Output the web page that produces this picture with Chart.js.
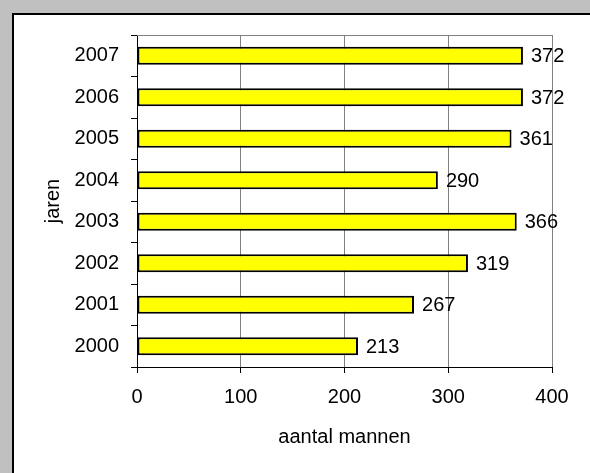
<!DOCTYPE html>
<html>
<head>
<meta charset="utf-8">
<script src="https://cdn.jsdelivr.net/npm/chart.js@4/dist/chart.umd.min.js"></script>
<style>
  html, body { margin: 0; padding: 0; background: #c0c0c0; overflow: hidden; }
  #frame { position: absolute; left: 12px; top: 13px; width: 700px; height: 600px; background: #fff; border-left: 2px solid #000; border-top: 2px solid #000; }
  #chart { position: absolute; left: 0; top: 0; }
</style>
</head>
<body>
<div id="frame"></div>
<canvas id="chart" width="590" height="473"></canvas>
<script>
// jaren, van boven naar beneden zoals in de grafiek
const jaren = ['2007', '2006', '2005', '2004', '2003', '2002', '2001', '2000'];
const mannen = [372, 372, 361, 290, 366, 319, 267, 213];
const xTicks = [0, 100, 200, 300, 400];

const FONT = { family: '"Liberation Sans", Arial, sans-serif', size: 20 };

// grijze bovenrand van het plotgebied
const plotBorder = {
  id: 'plotBorder',
  beforeDatasetsDraw(chart) {
    const { ctx, chartArea: a } = chart;
    ctx.save();
    ctx.strokeStyle = '#808080';
    ctx.lineWidth = 1;
    ctx.beginPath();
    ctx.moveTo(a.left, a.top + 0.5);
    ctx.lineTo(a.right, a.top + 0.5);
    ctx.stroke();
    ctx.restore();
  }
};

// waarden naast de balken
const valueLabels = {
  id: 'valueLabels',
  afterDatasetsDraw(chart) {
    const { ctx } = chart;
    const meta = chart.getDatasetMeta(0);
    ctx.save();
    ctx.font = `${FONT.size}px ${FONT.family}`;
    ctx.fillStyle = '#000';
    ctx.textAlign = 'left';
    ctx.textBaseline = 'middle';
    meta.data.forEach((bar, i) => {
      ctx.fillText(String(mannen[i]), bar.x + 8, bar.y + 1);
    });
    ctx.restore();
  }
};

new Chart(document.getElementById('chart'), {
  type: 'bar',
  data: {
    labels: jaren,
    datasets: [{
      data: mannen,
      backgroundColor: '#ffff00',
      borderColor: '#000',
      borderWidth: 2,
      borderSkipped: false,
      barPercentage: 0.43,
      categoryPercentage: 1
    }]
  },
  options: {
    indexAxis: 'y',
    responsive: false,
    animation: false,
    layout: { padding: { top: 35, right: 38, left: 0, bottom: 0 } },
    plugins: { legend: { display: false }, tooltip: { enabled: false } },
    scales: {
      x: {
        min: 0,
        max: 400,
        afterFit(scale) { scale.height = 106; },
        afterBuildTicks(scale) { scale.ticks = xTicks.map(v => ({ value: v })); },
        grid: { color: '#808080', tickColor: '#000', tickLength: 6, lineWidth: 1 },
        border: { color: '#000', width: 1 },
        ticks: { color: '#000', font: FONT, padding: 12 },
        title: { display: true, text: 'aantal mannen', color: '#000', font: FONT, padding: { top: 0, bottom: 24 } }
      },
      y: {
        afterFit(scale) { scale.width = 137; },
        grid: { drawOnChartArea: false, offset: true, color: '#000', tickLength: 6 },
        border: { color: '#000', width: 1 },
        ticks: { color: '#000', font: FONT, padding: 12 },
        title: { display: true, text: 'jaren', color: '#000', font: FONT, padding: { top: 41, bottom: 0 } }
      }
    }
  },
  plugins: [plotBorder, valueLabels]
});
</script>
</body>
</html>
